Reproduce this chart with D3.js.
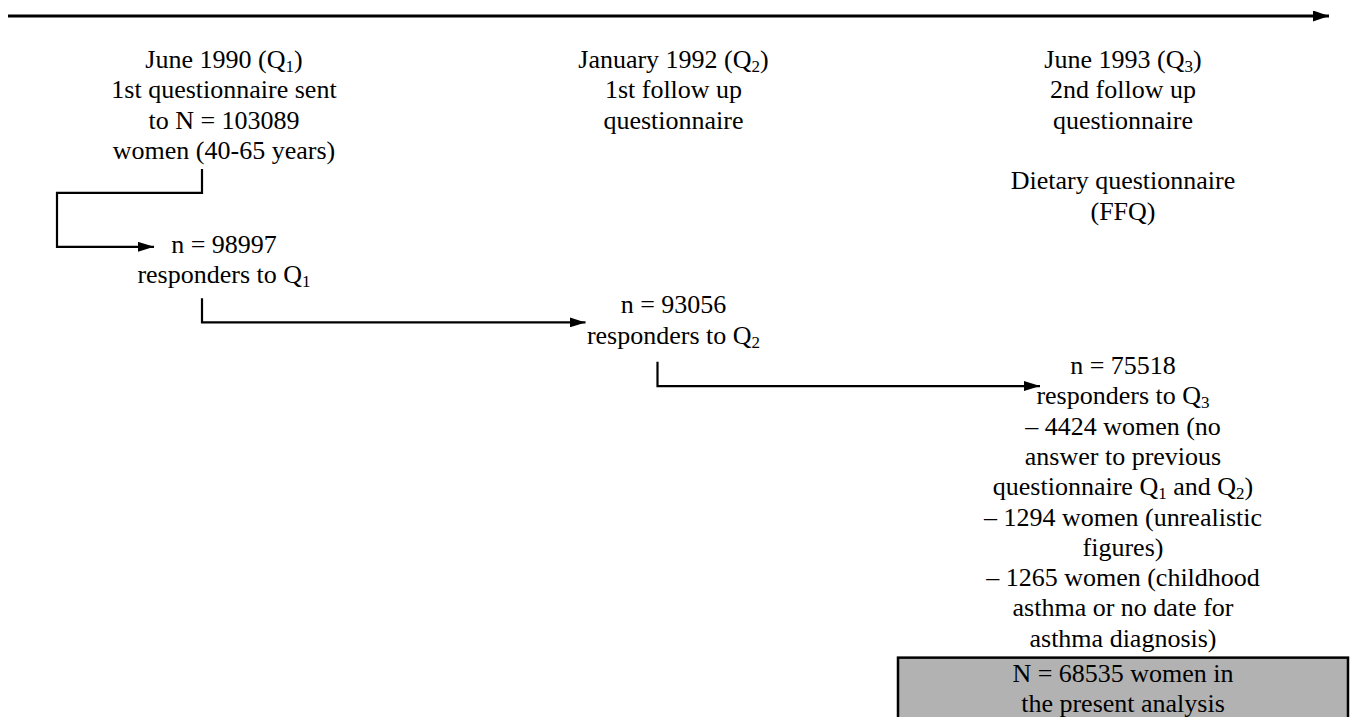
<!DOCTYPE html>
<html>
<head>
<meta charset="utf-8">
<script src="https://cdn.jsdelivr.net/npm/d3@7"></script>
</head>
<body style="margin:0;padding:0;background:#fff">
<svg id="chart" width="1351" height="717" style="display:block"></svg>
<script>
// ---- data ----
const columns = ["Q1", "Q2", "Q3"];
const headerQ1 = ["June 1990 (Q_1)", "1st questionnaire sent", "to N = 103089", "women (40-65 years)"];
const headerQ2 = ["January 1992 (Q_2)", "1st follow up", "questionnaire"];
const headerQ3 = ["June 1993 (Q_3)", "2nd follow up", "questionnaire", "", "Dietary questionnaire", "(FFQ)"];
const responderCounts = [98997, 93056, 75518];
const responderLabels = ["responders to Q_1", "responders to Q_2", "responders to Q_3"];
const exclusionLines = [
  "\u2013 4424 women (no", "answer to previous", "questionnaire Q_1 and Q_2)",
  "\u2013 1294 women (unrealistic", "figures)",
  "\u2013 1265 women (childhood", "asthma or no date for", "asthma diagnosis)"
];
const finalLines = ["N = 68535 women in", "the present analysis"];

// ---- scales ----
const W = 1351, H = 717;
const FONT = "Liberation Serif";
const svg = d3.select("#chart");
const x = d3.scalePoint().domain(columns).range([224, 1123]);
const y = d3.scaleLinear().domain([0, 1]).range([68, 98.3]); // text row -> baseline

// ---- helpers ----
function addLine(g, str, cx, cy) {
  const t = g.append("text").attr("x", cx).attr("y", cy).attr("text-anchor", "middle")
    .attr("font-family", FONT).attr("font-size", 26).attr("fill", "#000");
  const parts = str.split(/(_\d)/);
  let shifted = false;
  parts.forEach(p => {
    if (p === "") return;
    if (p[0] === "_") {
      t.append("tspan").attr("font-size", 17).attr("dy", 4).text(p.slice(1));
      shifted = true;
    } else {
      const ts = t.append("tspan").text(p);
      if (shifted) { ts.attr("dy", -4); shifted = false; }
    }
  });
  return t;
}

// markers
const defs = svg.append("defs");
defs.append("marker").attr("id", "arr").attr("markerUnits", "userSpaceOnUse")
  .attr("viewBox", "0 0 16 10").attr("refX", 16).attr("refY", 5)
  .attr("markerWidth", 16).attr("markerHeight", 10).attr("orient", "auto")
  .append("path").attr("d", "M0,0 L16,5 L0,10 Z").attr("fill", "#000");
defs.append("marker").attr("id", "arrTop").attr("markerUnits", "userSpaceOnUse")
  .attr("viewBox", "0 0 16 11").attr("refX", 16).attr("refY", 5.5)
  .attr("markerWidth", 16).attr("markerHeight", 11).attr("orient", "auto")
  .append("path").attr("d", "M0,0 L16,5.5 L0,11 Z").attr("fill", "#000");

// timeline arrow
svg.append("line").attr("x1", 8).attr("x2", 1329).attr("y1", 16).attr("y2", 16)
  .attr("stroke", "#000").attr("stroke-width", 3).attr("marker-end", "url(#arrTop)");

// final box
const boxTop = y(19.46);
svg.append("rect").attr("x", 898).attr("y", boxTop).attr("width", 1348 - 898).attr("height", H - boxTop + 10)
  .attr("fill", "#b2b2b2").attr("stroke", "#000").attr("stroke-width", 2.5);

const g = svg.append("g");
[headerQ1, headerQ2, headerQ3].forEach((lines, i) => {
  lines.forEach((l, r) => { if (l) addLine(g, l, x(columns[i]), y(r)); });
});
responderCounts.forEach((n, i) => {
  const r0 = 6.1 + 2 * i;
  addLine(g, "n = " + n, x(columns[i]), y(r0));
  addLine(g, responderLabels[i], x(columns[i]), y(r0 + 1));
});
exclusionLines.forEach((l, k) => addLine(g, l, x("Q3"), y(12.1 + k)));
finalLines.forEach((l, k) => addLine(g, l, x("Q3"), y(20.25 + k) + 0.5));

// connectors
const line = d3.line();
const conn = [
  [[x("Q1") - 22, y(3) + 10], [x("Q1") - 22, y(3) + 34], [57, y(3) + 34], [57, y(6.1) - 6], [x("Q1") - 70, y(6.1) - 6]],
  [[x("Q1") - 22, y(7.1) + 15], [x("Q1") - 22, y(8.1) + 9], [x("Q2") - 88, y(8.1) + 9]],
  [[x("Q2") - 16, y(9.1) + 18], [x("Q2") - 16, y(10.1) + 12], [x("Q3") - 83, y(10.1) + 12]]
];
svg.selectAll("path.conn").data(conn).join("path").attr("class", "conn")
  .attr("d", d => line(d)).attr("fill", "none").attr("stroke", "#000")
  .attr("stroke-width", 2.2).attr("marker-end", "url(#arr)");
</script>
</body>
</html>
